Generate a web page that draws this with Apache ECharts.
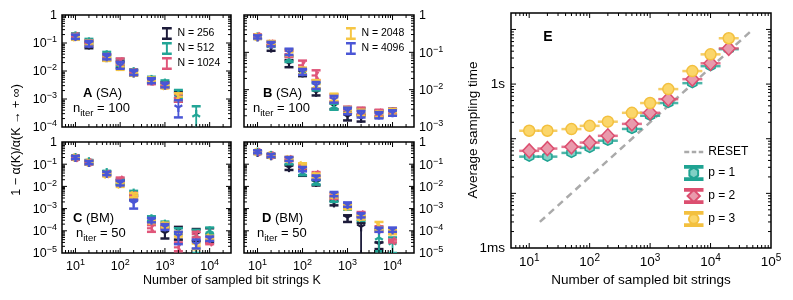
<!DOCTYPE html>
<html><head><meta charset="utf-8">
<script src="https://cdn.jsdelivr.net/npm/echarts@6/dist/echarts.min.js"></script>
<style>html,body{margin:0;padding:0;background:#fff}#c{width:793px;height:300px}</style>
</head><body><div id="c"></div>
<script>
// ---------- data ----------
const K = [10, 20, 50, 100, 200, 500, 1000, 2000, 5000, 10000];
const nLabels = ['N = 256', 'N = 512', 'N = 1024', 'N = 2048', 'N = 4096'];
// each point: [mean, lower, upper]
const A_256 = [[0.17,0.14,0.21],[0.085,0.065,0.11],[0.030,0.024,0.038],[0.017,0.013,0.022],[0.0085,0.007,0.0105],[0.0045,0.0037,0.0055],[0.0032,0.0026,0.0040],[0.0012,0.0008,0.0018],null,null];
const A_512 = [[0.18,0.15,0.22],[0.11,0.085,0.14],[0.038,0.03,0.048],[0.020,0.015,0.027],[0.0095,0.0078,0.0115],[0.0050,0.0041,0.0062],[0.0037,0.003,0.0046],[0.0015,0.0011,0.0021],[0.00028,0.00005,0.00055],null];
const A_1024 = [[0.175,0.145,0.21],[0.10,0.08,0.125],[0.033,0.027,0.04],[0.022,0.017,0.028],[0.009,0.0074,0.011],[0.0042,0.0034,0.0052],[0.0030,0.0025,0.0037],[0.0011,0.0008,0.0015],null,null];
const A_2048 = [[0.16,0.13,0.2],[0.10,0.08,0.125],[0.029,0.023,0.036],[0.014,0.011,0.018],[0.0085,0.007,0.0105],[0.0048,0.004,0.0058],[0.0029,0.0024,0.0035],[0.0012,0.0009,0.0016],null,null];
const A_4096 = [[0.17,0.14,0.2],[0.095,0.075,0.12],[0.032,0.026,0.04],[0.016,0.012,0.021],[0.0088,0.0072,0.0108],[0.0045,0.0037,0.0055],[0.0031,0.0026,0.0038],[0.0005,0.00022,0.0009],null,null];

const B_256 = [[0.26,0.23,0.29],[0.13,0.11,0.155],[0.05,0.04,0.062],[0.028,0.023,0.034],[0.0085,0.007,0.0105],[0.0037,0.003,0.0045],[0.0019,0.0015,0.0024],[0.0017,0.0014,0.0021],[0.0022,0.0018,0.0027],[0.0025,0.0021,0.003]];
const B_512 = [[0.26,0.23,0.29],[0.16,0.14,0.19],[0.065,0.055,0.078],[0.03,0.025,0.036],[0.012,0.0095,0.015],[0.0035,0.0029,0.0042],[0.0028,0.0023,0.0034],[0.0026,0.0021,0.0032],[0.0023,0.0019,0.0028],[0.0026,0.0022,0.0031]];
const B_1024 = [[0.27,0.24,0.3],[0.17,0.15,0.2],[0.09,0.075,0.11],[0.045,0.035,0.06],[0.024,0.018,0.033],[0.006,0.0048,0.0075],[0.0029,0.0024,0.0035],[0.0027,0.0022,0.0033],[0.0024,0.002,0.0029],[0.0026,0.0022,0.0031]];
const B_2048 = [[0.26,0.23,0.29],[0.17,0.15,0.2],[0.1,0.083,0.12],[0.032,0.026,0.039],[0.014,0.011,0.018],[0.0062,0.005,0.0078],[0.0028,0.0023,0.0034],[0.0024,0.002,0.0029],[0.0022,0.0018,0.0026],[0.0025,0.0021,0.003]];
const B_4096 = [[0.26,0.235,0.285],[0.165,0.145,0.19],[0.1,0.085,0.125],[0.03,0.025,0.036],[0.013,0.0105,0.016],[0.0055,0.0045,0.0068],[0.0027,0.0022,0.0033],[0.0022,0.0018,0.0027],[0.0021,0.0017,0.0025],[0.0024,0.002,0.0028]];

const C_256 = [[0.2,0.17,0.24],[0.12,0.1,0.145],[0.04,0.033,0.048],[0.015,0.012,0.019],[0.003,0.0024,0.0038],[0.0003,0.00024,0.00038],[0.00008,0.000045,0.00014],[0.00011,0.00004,0.00015],[0.00007,0.000035,0.00012],[0.00006,0.00003,0.00013]];
const C_512 = [[0.2,0.17,0.24],[0.13,0.11,0.155],[0.042,0.035,0.05],[0.017,0.013,0.022],[0.005,0.004,0.0063],[0.00035,0.00027,0.00045],[0.0002,0.00016,0.00026],[0.00009,0.00007,0.00013],[0.00006,0.00001,0.00011],[0.0001,0.00007,0.00014]];
const C_1024 = [[0.19,0.16,0.23],[0.12,0.1,0.145],[0.036,0.03,0.043],[0.02,0.016,0.025],[0.004,0.0032,0.005],[0.00013,0.00009,0.00018],[0.00016,0.00012,0.00021],[0.000018,0.000012,0.00003],[0.00007,0.00005,0.00009],[0.00003,0.000025,0.00004]];
const C_2048 = [[0.2,0.17,0.24],[0.12,0.1,0.145],[0.034,0.028,0.041],[0.012,0.0095,0.015],[0.004,0.0032,0.005],[0.00028,0.00022,0.00036],[0.00018,0.00014,0.00023],[0.00007,0.000055,0.00009],[0.00002,0.000015,0.000027],[0.00005,0.00004,0.00006]];
const C_4096 = [[0.2,0.17,0.235],[0.12,0.1,0.14],[0.038,0.032,0.045],[0.014,0.011,0.018],[0.0018,0.001,0.0025],[0.0003,0.00024,0.00038],[0.00015,0.00011,0.0002],[0.00006,0.000025,0.00009],[0.000025,0.000016,0.00004],[0.000045,0.000035,0.000055]];

const D_256 = [[0.34,0.29,0.4],[0.24,0.2,0.28],[0.07,0.055,0.09],[0.045,0.03,0.06],[0.015,0.011,0.02],[0.0018,0.0014,0.0023],[0.0004,0.00025,0.0005],[0.00015,0.000005,0.00022],[0.000025,0.000015,0.00003],null];
const D_512 = [[0.35,0.3,0.41],[0.25,0.21,0.29],[0.12,0.1,0.145],[0.04,0.032,0.05],[0.015,0.012,0.019],[0.0025,0.002,0.0031],[0.0011,0.0009,0.0014],[0.00035,0.00028,0.00044],[0.00005,0.000012,0.00011],[0.00003,0.00001,0.00005]];
const D_1024 = [[0.35,0.3,0.41],[0.25,0.21,0.29],[0.17,0.14,0.21],[0.08,0.065,0.1],[0.035,0.028,0.044],[0.0035,0.0028,0.0044],[0.0013,0.001,0.0016],[0.00055,0.00042,0.0007],[0.00012,0.00009,0.00016],[0.000035,0.00003,0.00004]];
const D_2048 = [[0.35,0.3,0.41],[0.25,0.21,0.29],[0.17,0.14,0.21],[0.09,0.072,0.11],[0.03,0.024,0.038],[0.004,0.0032,0.005],[0.0012,0.00095,0.0015],[0.0004,0.00032,0.0005],[0.00015,0.00011,0.00025],[0.00009,0.00007,0.00011]];
const D_4096 = [[0.36,0.31,0.42],[0.25,0.21,0.29],[0.17,0.14,0.21],[0.06,0.048,0.075],[0.025,0.02,0.031],[0.0045,0.0036,0.0056],[0.0015,0.0012,0.0019],[0.0005,0.0004,0.00063],[0.00011,0.00009,0.00014],[0.00011,0.00009,0.00014]];

// panel E: average sampling time in ms
const E_K = [10, 20, 50, 100, 200, 500, 1000, 2000, 5000, 10000, 20000];
const E_p1 = [47, 47, 55, 68, 92, 151, 263, 450, 1040, 2130, 4350];
const E_p2 = [60, 66, 71, 85, 113, 187, 298, 530, 1230, 2400, 4500];
const E_p3 = [140, 140, 150, 172, 205, 298, 450, 810, 1730, 3500, 6900];
const RESET_K = [15, 50000];
const RESET_T = [3, 10000];

// ---------- styling ----------
const FONT = '"Liberation Sans", Arial, sans-serif';
const nColors = ['#1c1b3a', '#22a596', '#e0567a', '#f6c644', '#4a56d6'];
const nShapes = ['down', 'up', 'left', 'right', 'down'];
const TRI = {
  down: [Math.PI/2, Math.PI*7/6, Math.PI*11/6],
  up: [-Math.PI/2, Math.PI/6, Math.PI*5/6],
  left: [Math.PI, -Math.PI/3, Math.PI/3],
  right: [0, Math.PI*2/3, Math.PI*4/3]
};
const panels = [
  {id:'A', sets:[A_256,A_512,A_1024,A_2048,A_4096], x:[5,30000], y:[1e-4,1], grid:{left:62, top:15, width:169, height:112}, yRight:false, xLabels:false},
  {id:'B', sets:[B_256,B_512,B_1024,B_2048,B_4096], x:[5,30000], y:[1e-3,1], grid:{left:244, top:15, width:170, height:112}, yRight:true, xLabels:false},
  {id:'C', sets:[C_256,C_512,C_1024,C_2048,C_4096], x:[5,30000], y:[1e-5,1], grid:{left:62, top:142, width:169, height:111}, yRight:false, xLabels:true},
  {id:'D', sets:[D_256,D_512,D_1024,D_2048,D_4096], x:[5,30000], y:[1e-5,1], grid:{left:244, top:142, width:170, height:111}, yRight:true, xLabels:true}
];
const E_cfg = {x:[5,100000], y:[1,20000], grid:{left:511, top:13, width:260, height:235}};

function expOf(v){ const e = Math.round(Math.log10(v)); return Math.abs(Math.log10(v)-e) < 1e-6 ? e : null; }
function powLabel(v){
  const e = expOf(v); if (e === null) return '';
  if (e === 0) return '{b|1}';
  return '{b|10}{s|' + (e < 0 ? '\u2212' + (-e) : e) + '}';
}
const richPow = {
  b: {fontFamily: FONT, fontSize: 12.5, lineHeight: 15, verticalAlign: 'bottom', color: '#000'},
  s: {fontFamily: FONT, fontSize: 9, lineHeight: 9, verticalAlign: 'top', color: '#000'}
};
const richPowE = {
  b: {fontFamily: FONT, fontSize: 13.5, lineHeight: 16, verticalAlign: 'bottom', color: '#000'},
  s: {fontFamily: FONT, fontSize: 10, lineHeight: 10, verticalAlign: 'top', color: '#000'}
};

function logTicks(r){
  const res = [];
  for (let e = Math.floor(Math.log10(r[0])); e <= Math.ceil(Math.log10(r[1])); e++)
    for (let m = 1; m <= 9; m++) {
      const v = m * Math.pow(10, e);
      if (v > r[0]*1.0001 && v < r[1]*0.9999) res.push({v, major: m === 1});
    }
  return res;
}
function tickSeries(gi, xr, yr){
  return {
    type: 'custom', xAxisIndex: gi, yAxisIndex: gi, silent: true, clip: false, z: 10,
    data: [[xr[0], yr[0]]],
    renderItem: (params, api) => {
      const ch = [];
      const bl = api.coord([xr[0], yr[0]]), tr = api.coord([xr[1], yr[1]]);
      const st = {stroke: '#000', lineWidth: 1};
      logTicks(xr).forEach(t => {
        const px = api.coord([t.v, yr[0]])[0]; const L = t.major ? 5 : 3;
        ch.push({type:'line', shape:{x1:px, y1:bl[1], x2:px, y2:bl[1]-L}, style:st});
        ch.push({type:'line', shape:{x1:px, y1:tr[1], x2:px, y2:tr[1]+L}, style:st});
      });
      logTicks(yr).forEach(t => {
        const py = api.coord([xr[0], t.v])[1]; const L = t.major ? 5 : 3;
        ch.push({type:'line', shape:{x1:bl[0], y1:py, x2:bl[0]+L, y2:py}, style:st});
        ch.push({type:'line', shape:{x1:tr[0], y1:py, x2:tr[0]-L, y2:py}, style:st});
      });
      return {type:'group', children: ch};
    }
  };
}
function ebRender(shape){
  return (params, api) => {
    const x = api.value(0), m = api.value(1), lo = api.value(2), hi = api.value(3);
    const pm = api.coord([x, m]), pl = api.coord([x, lo]), ph = api.coord([x, hi]);
    const c = api.visual('color');
    const w = 4.5;
    const ch = [
      {type:'line', shape:{x1:pm[0], y1:pl[1], x2:pm[0], y2:ph[1]}, style:{stroke:c, lineWidth:1.8}},
      {type:'line', shape:{x1:pm[0]-w, y1:pl[1], x2:pm[0]+w, y2:pl[1]}, style:{stroke:c, lineWidth:2.5}},
      {type:'line', shape:{x1:pm[0]-w, y1:ph[1], x2:pm[0]+w, y2:ph[1]}, style:{stroke:c, lineWidth:2.5}}
    ];
    const r = 4.5;
    TRI[shape].forEach(a => ch.push({type:'line', shape:{x1:pm[0], y1:pm[1], x2:pm[0]+r*Math.cos(a), y2:pm[1]+r*Math.sin(a)}, style:{stroke:c, lineWidth:2.2}}));
    return {type:'group', children: ch};
  };
}

const grids = [], xAxes = [], yAxes = [], series = [];
panels.forEach((p, gi) => {
  grids.push(Object.assign({show:true, borderColor:'#000', borderWidth:1.5, backgroundColor:'transparent'}, p.grid));
  xAxes.push({type:'log', gridIndex:gi, min:p.x[0], max:p.x[1], axisLine:{show:false}, axisTick:{show:false}, splitLine:{show:false},
    axisLabel:{show:p.xLabels, formatter:powLabel, rich:richPow, margin:5, showMinLabel:true, showMaxLabel:true}});
  yAxes.push({type:'log', gridIndex:gi, min:p.y[0], max:p.y[1], position: p.yRight ? 'right' : 'left', axisLine:{show:false}, axisTick:{show:false}, splitLine:{show:false},
    axisLabel:{formatter:powLabel, rich:richPow, margin:5}});
  series.push(tickSeries(gi, p.x, p.y));
  p.sets.forEach((arr, ni) => {
    const data = K.map((k, i) => arr[i] ? [k, arr[i][0], arr[i][1], arr[i][2]] : null).filter(Boolean);
    series.push({type:'custom', name:nLabels[ni], xAxisIndex:gi, yAxisIndex:gi, clip:true, z: 3+ni,
      itemStyle:{color:nColors[ni]}, renderItem: ebRender(nShapes[ni]), data});
  });
});

// panel E
const gE = 4;
grids.push(Object.assign({show:true, borderColor:'#000', borderWidth:1.5, backgroundColor:'transparent'}, E_cfg.grid));
xAxes.push({type:'log', gridIndex:gE, min:E_cfg.x[0], max:E_cfg.x[1], axisLine:{show:false}, axisTick:{show:false}, splitLine:{show:false},
  axisLabel:{formatter:powLabel, rich:richPowE, margin:5}});
yAxes.push({type:'log', gridIndex:gE, min:E_cfg.y[0], max:E_cfg.y[1], axisLine:{show:false}, axisTick:{show:false}, splitLine:{show:false},
  axisLabel:{fontFamily:FONT, fontSize:13.5, color:'#000', margin:6, formatter: v => { const e = expOf(v); return e === 0 ? '1ms' : (e === 3 ? '1s' : ''); }}});
series.push(tickSeries(gE, E_cfg.x, E_cfg.y));
series.push({type:'line', name:'RESET', xAxisIndex:gE, yAxisIndex:gE, data: RESET_K.map((k,i)=>[k, RESET_T[i]]), showSymbol:false, symbol:'none',
  lineStyle:{color:'#aaaaaa', width:2.5, type:[7,5]}, itemStyle:{color:'#aaaaaa'}, z:2});
const Ep = [
  {name:'p = 1', vals:E_p1, fill:'#80d0c5', dark:'#1fa392', sym:'path://M0,-1L0.87,-0.5L0.87,0.5L0,1L-0.87,0.5L-0.87,-0.5Z', size:9},
  {name:'p = 2', vals:E_p2, fill:'#e99aac', dark:'#dc4f70', sym:'diamond', size:[13,14]},
  {name:'p = 3', vals:E_p3, fill:'#fbd66a', dark:'#f3c03f', sym:'circle', size:11}
];
Ep.forEach((s, i) => {
  const d = E_K.map((k, j) => [k, s.vals[j]]);
  series.push({type:'scatter', name:s.name+' ', xAxisIndex:gE, yAxisIndex:gE, data:d, symbol:'rect', symbolSize:[20,2.5],
    itemStyle:{color:s.dark}, z:4+2*i, silent:true});
  series.push({type:'scatter', name:s.name, xAxisIndex:gE, yAxisIndex:gE, data:d, symbol:s.sym, symbolSize:s.size,
    itemStyle:{color:s.fill, borderColor:s.dark, borderWidth:1.5, opacity:1}, z:5+2*i});
});

const ibeam = 'path://M0,0H12V3H7.2V13H12V16H0V13H4.8V3H0Z';
const dashIcon = 'path://M0,6H5V8.5H0Z M7.5,6H12V8.5H7.5Z M14.5,6H19V8.5H14.5Z';
const capIcon = {
  'p = 1': 'path://M0,0H20V2H0Z M0,14H20V16H0Z M10,2L15,5L15,11L10,14L5,11L5,5Z',
  'p = 2': 'path://M0,0H20V2H0Z M0,14H20V16H0Z M10,1L17,8L10,15L3,8Z',
  'p = 3': 'path://M0,0H20V2H0Z M0,14H20V16H0Z M10,2.5A5.5,5.5 0 1 1 9.99,2.5Z'
};
const legTxt = {fontFamily: FONT, fontSize: 10.5, color:'#000'};

const titleTxt = (x, y, text, size) => ({type:'text', x, y, silent:true, style:{text, fontFamily:FONT, fontSize:size, fill:'#000', align:'center', verticalAlign:'middle'}});
const richPanel = {
  b: {fontFamily:FONT, fontSize:13, fontWeight:'bold', color:'#000', lineHeight:16, verticalAlign:'top'},
  t: {fontFamily:FONT, fontSize:13, color:'#000', lineHeight:16, verticalAlign:'top'}
};
const richIter = {
  n: {fontFamily:FONT, fontSize:13, color:'#000', lineHeight:15, verticalAlign:'top'},
  s: {fontFamily:FONT, fontSize:9.5, color:'#000', lineHeight:10, verticalAlign:'top', padding:[7,0,0,0]}
};
const panelLabel = (x, y, letter, algo) => ({type:'text', x, y, silent:true, style:{text:'{b|'+letter+'}{t| ('+algo+')}', rich:richPanel, align:'left', verticalAlign:'middle'}});
const iterLabel = (x, y, n) => ({type:'text', x, y, silent:true, style:{text:'{n|n}{s|iter}{n| = '+n+'}', rich:richIter, align:'left', verticalAlign:'middle'}});

const yTitle = titleTxt(17, 140, '1 \u2212 \u03b1(K)/\u03b1(K \u2192 + \u221e)', 12.5); yTitle.rotation = Math.PI/2;
const eTitle = titleTxt(473, 130, 'Average sampling time', 13.5); eTitle.rotation = Math.PI/2;

const option = {
  animation: false,
  backgroundColor: '#fff',
  textStyle: {fontFamily: FONT},
  grid: grids, xAxis: xAxes, yAxis: yAxes, series,
  legend: [
    {data: nLabels.slice(0,3).map(n => ({name:n, icon:ibeam})), orient:'vertical', left:162, top:27, itemWidth:11, itemHeight:13, itemGap:2, padding:0, textStyle:legTxt, selectedMode:false},
    {data: nLabels.slice(3).map(n => ({name:n, icon:ibeam})), orient:'vertical', left:346, top:27, itemWidth:11, itemHeight:13, itemGap:2, padding:0, textStyle:legTxt, selectedMode:false},
    {data: [{name:'RESET', icon:dashIcon}].concat(Ep.map(s => ({name:s.name, icon:capIcon[s.name]}))), orient:'vertical', left:684, top:146, itemWidth:19, itemHeight:14, itemGap:7, padding:0,
      textStyle:{fontFamily:FONT, fontSize:12, color:'#000'}, selectedMode:false}
  ],
  graphic: [
    yTitle, eTitle,
    titleTxt(232, 281, 'Number of sampled bit strings K', 12.5),
    titleTxt(641, 280, 'Number of sampled bit strings', 13.5),
    panelLabel(83, 95, 'A', 'SA'), iterLabel(73, 109, 100),
    panelLabel(263, 95, 'B', 'SA'), iterLabel(253, 109, 100),
    panelLabel(73, 220, 'C', 'BM'), iterLabel(76, 234, 50),
    panelLabel(262, 220, 'D', 'BM'), iterLabel(257, 234, 50),
    {type:'text', x:548, y:37, silent:true, style:{text:'E', fontFamily:FONT, fontSize:14, fontWeight:'bold', fill:'#000', align:'center', verticalAlign:'middle'}}
  ]
};

const chart = echarts.init(document.getElementById('c'), null, {renderer:'canvas'});
chart.setOption(option);
</script></body></html>
